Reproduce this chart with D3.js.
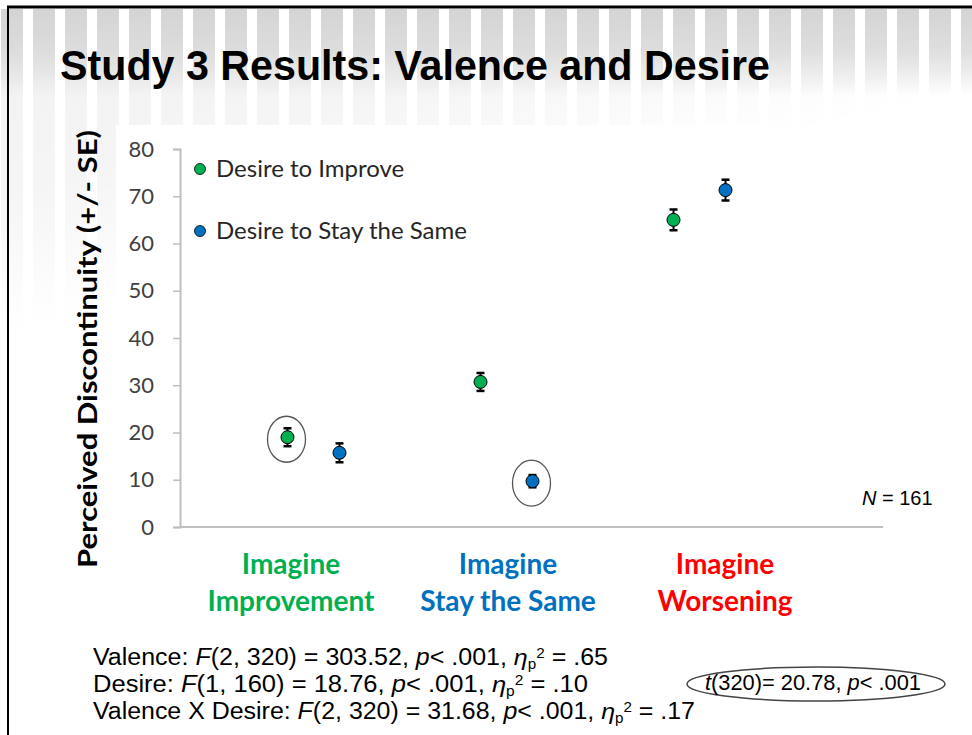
<!DOCTYPE html>
<html lang="en">
<head>
  <meta charset="UTF-8">
  <title>Study 3 Results: Valence and Desire</title>
  <script src="https://d3js.org/d3.v7.min.js"></script>
</head>
<style>
  body{
    margin:0;
    background:white;
  }
</style>
<body>
  <div id="slide"></div>
<script>
// ---- data ----
var conditions = ["Improvement", "Stay the Same", "Worsening"];
var conditionLines = [["Imagine", "Improvement"], ["Imagine", "Stay the Same"], ["Imagine", "Worsening"]];
var conditionColours = ["#00b050", "#0070c0", "#ff0000"];
var seriesNames = ["Desire to Improve", "Desire to Stay the Same"];
var seriesColours = ["#00b050", "#0070c0"];
var improveMeans = [19.0, 30.7, 65.0];
var improveSE = [1.9, 1.9, 2.2];
var stayMeans = [15.7, 9.7, 71.3];
var staySE = [2.0, 1.3, 2.2];
var yTicks = [0, 10, 20, 30, 40, 50, 60, 70, 80];
// which points get a circle round them: [series, condition]
var circled = [[0, 0], [1, 1]];

var width = 972, height = 735;
var sansFont = "Lato, 'Open Sans', sans-serif";
var arialFont = "'Liberation Sans', Arial, sans-serif";
var narrowFont = "'Liberation Sans Narrow', 'Liberation Sans', Arial, sans-serif";

var svg = d3.select("#slide").append("svg")
  .attr("width", width)
  .attr("height", height);

var defs = svg.append("defs");

// vertical fade for the striped header
var fadeTop = defs.append("linearGradient")
  .attr("id", "fadeTop")
  .attr("gradientUnits", "userSpaceOnUse")
  .attr("x1", 0).attr("y1", 9).attr("x2", 0).attr("y2", 96);
fadeTop.append("stop").attr("offset", 0).attr("stop-color", "white").attr("stop-opacity", 1);
fadeTop.append("stop").attr("offset", 0.5).attr("stop-color", "white").attr("stop-opacity", 0.7);
fadeTop.append("stop").attr("offset", 1).attr("stop-color", "white").attr("stop-opacity", 0);
defs.append("mask").attr("id", "maskTop")
  .append("rect").attr("x", 0).attr("y", 0).attr("width", width).attr("height", 360)
  .attr("fill", "url(#fadeTop)");

// diagonal fade, stripes run further down on the left
var fadeDiag = defs.append("linearGradient")
  .attr("id", "fadeDiag")
  .attr("gradientUnits", "userSpaceOnUse")
  .attr("x1", 0).attr("y1", 0).attr("x2", 81).attr("y2", 317);
fadeDiag.append("stop").attr("offset", 0).attr("stop-color", "white").attr("stop-opacity", 0.35);
fadeDiag.append("stop").attr("offset", 0.6).attr("stop-color", "white").attr("stop-opacity", 0.22);
fadeDiag.append("stop").attr("offset", 1).attr("stop-color", "white").attr("stop-opacity", 0);
defs.append("mask").attr("id", "maskDiag")
  .append("rect").attr("x", 0).attr("y", 0).attr("width", width).attr("height", 360)
  .attr("fill", "url(#fadeDiag)");

// stripes
var stripeX = d3.range(1, width, 32);
["maskTop", "maskDiag"].forEach(function(m){
  svg.append("g")
    .attr("mask", "url(#" + m + ")")
    .selectAll("rect")
    .data(stripeX)
    .enter().append("rect")
      .attr("x", function(d){ return d; })
      .attr("y", 9)
      .attr("width", 22)
      .attr("height", 340)
      .attr("fill", "#d4d4d4");
});

// white chart area
svg.append("rect")
  .attr("x", 116).attr("y", 125)
  .attr("width", width - 116).attr("height", height - 125)
  .attr("fill", "white");

// slide frame (top and left edges only are in view)
svg.append("line").attr("x1", 7).attr("x2", width).attr("y1", 7).attr("y2", 7)
  .attr("stroke", "black").attr("stroke-width", 3);
svg.append("line").attr("x1", 8).attr("x2", 8).attr("y1", 6).attr("y2", height)
  .attr("stroke", "black").attr("stroke-width", 2);

// title
svg.append("text")
  .attr("x", 60).attr("y", 80)
  .attr("font-family", narrowFont)
  .attr("font-size", 42)
  .attr("font-weight", "bold")
  .attr("textLength", 710)
  .attr("lengthAdjust", "spacingAndGlyphs")
  .attr("fill", "black")
  .text("Study 3 Results: Valence and Desire");

// ---- scales ----
var yScale = d3.scaleLinear().domain([0, 80]).range([527, 149]);
var xScale = d3.scaleBand().domain(conditions).range([217, 796]);
var xSeries = d3.scalePoint().domain(seriesNames).range([-26, 26]);
var xLabel = d3.scalePoint().domain(conditions).range([291, 725]);

function cx(seriesIdx, condIdx){
  return xScale(conditions[condIdx]) + xScale.bandwidth() / 2 + xSeries(seriesNames[seriesIdx]);
}

// y axis
var yAxis = d3.axisLeft(yScale).tickValues(yTicks).tickSize(7).tickPadding(19);
var gy = svg.append("g")
  .attr("transform", "translate(180,0)")
  .call(yAxis);
gy.select(".domain").attr("stroke", "#bfbfbf").attr("stroke-width", 2);
gy.selectAll(".tick line").attr("stroke", "#bfbfbf").attr("stroke-width", 1.5);
gy.selectAll(".tick text")
  .attr("font-family", sansFont)
  .attr("font-size", 22)
  .attr("fill", "#404040");

// x axis line
svg.append("line")
  .attr("x1", 180).attr("x2", 883)
  .attr("y1", yScale(0)).attr("y2", yScale(0))
  .attr("stroke", "#bfbfbf").attr("stroke-width", 2);

// y title
svg.append("text")
  .attr("transform", "translate(97,349) rotate(-90)")
  .attr("text-anchor", "middle")
  .attr("font-family", sansFont)
  .attr("font-weight", "bold")
  .attr("font-size", 26)
  .attr("textLength", 438)
  .attr("lengthAdjust", "spacingAndGlyphs")
  .attr("fill", "black")
  .text("Perceived Discontinuity (+/- SE)");

// condition labels
conditionLines.forEach(function(lines, i){
  var t = svg.append("text")
    .attr("text-anchor", "middle")
    .attr("font-family", sansFont)
    .attr("font-weight", "bold")
    .attr("font-size", 28)
    .attr("fill", conditionColours[i]);
  lines.forEach(function(l, j){
    t.append("tspan")
      .attr("x", xLabel(conditions[i]))
      .attr("y", 574 + j * 37)
      .text(l);
  });
});

// points
var allSeries = [
  {means: improveMeans, se: improveSE},
  {means: stayMeans, se: staySE}
];

allSeries.forEach(function(s, si){
  var pts = s.means.map(function(m, ci){
    return {x: cx(si, ci), m: m, se: s.se[ci]};
  });
  var g = svg.append("g");
  // error bars
  g.selectAll("line.bar").data(pts).enter().append("line")
    .attr("x1", function(d){ return d.x; })
    .attr("x2", function(d){ return d.x; })
    .attr("y1", function(d){ return yScale(d.m - d.se); })
    .attr("y2", function(d){ return yScale(d.m + d.se); })
    .attr("stroke", "black").attr("stroke-width", 2);
  [1, -1].forEach(function(sign){
    g.selectAll(null).data(pts).enter().append("line")
      .attr("x1", function(d){ return d.x - 4; })
      .attr("x2", function(d){ return d.x + 4; })
      .attr("y1", function(d){ return yScale(d.m + sign * d.se); })
      .attr("y2", function(d){ return yScale(d.m + sign * d.se); })
      .attr("stroke", "black").attr("stroke-width", 2.5);
  });
  // markers
  g.selectAll("circle").data(pts).enter().append("circle")
    .attr("cx", function(d){ return d.x; })
    .attr("cy", function(d){ return yScale(d.m); })
    .attr("r", 6.5)
    .attr("fill", seriesColours[si])
    .attr("stroke", "black").attr("stroke-width", 1);
});

// circles round the highlighted points
svg.selectAll("ellipse.hl").data(circled).enter().append("ellipse")
  .attr("cx", function(d){ return cx(d[0], d[1]) - 1; })
  .attr("cy", function(d){ return yScale(allSeries[d[0]].means[d[1]]) + 2; })
  .attr("rx", 19)
  .attr("ry", 23)
  .attr("fill", "none")
  .attr("stroke", "#555").attr("stroke-width", 1.3);

// legend
seriesNames.forEach(function(n, i){
  svg.append("circle")
    .attr("cx", 200).attr("cy", 169 + i * 62)
    .attr("r", 5.5)
    .attr("fill", seriesColours[i])
    .attr("stroke", "black").attr("stroke-width", 0.8);
  svg.append("text")
    .attr("x", 216).attr("y", 177 + i * 62)
    .attr("font-family", sansFont)
    .attr("font-size", 24)
    .attr("fill", "#262626")
    .text(n);
});

// N
var nText = svg.append("text")
  .attr("x", 862).attr("y", 505)
  .attr("font-family", arialFont)
  .attr("font-size", 20)
  .attr("fill", "black");
nText.append("tspan").attr("font-style", "italic").text("N");
nText.append("tspan").text(" = 161");

// stats lines
function statLine(x, y, len, size, parts){
  var t = svg.append("text")
    .attr("x", x).attr("y", y)
    .attr("font-family", narrowFont)
    .attr("font-size", size)
    .attr("textLength", len)
    .attr("lengthAdjust", "spacingAndGlyphs")
    .attr("fill", "black");
  parts.forEach(function(p){
    var ts = t.append("tspan").text(p.t);
    if (p.i) ts.attr("font-style", "italic");
    if (p.sub) ts.attr("font-size", 14).attr("dy", 4);
    if (p.sup) ts.attr("font-size", 14).attr("dy", -11);
    if (p.back) ts.attr("dy", 7);
  });
  return t;
}
function eta(v){
  return [{t: "η", i: true}, {t: "p", sub: true}, {t: "2", sup: true}, {t: " = " + v, back: true}];
}

statLine(93, 665, 515, 23, [{t: "Valence: "}, {t: "F", i: true}, {t: "(2, 320) = 303.52, "}, {t: "p", i: true}, {t: "< .001, "}].concat(eta(".65")));
statLine(93, 692, 495, 23, [{t: "Desire:  "}, {t: "F", i: true}, {t: "(1, 160) = 18.76, "}, {t: "p", i: true}, {t: "< .001, "}].concat(eta(".10")));
statLine(93, 719, 602, 23, [{t: "Valence X Desire: "}, {t: "F", i: true}, {t: "(2, 320) = 31.68, "}, {t: "p", i: true}, {t: "< .001, "}].concat(eta(".17")));

// t-test note
svg.append("ellipse")
  .attr("cx", 816).attr("cy", 684)
  .attr("rx", 129).attr("ry", 17)
  .attr("fill", "none")
  .attr("stroke", "#444").attr("stroke-width", 1.5);
statLine(705, 690, 216, 22, [{t: "t", i: true}, {t: "(320)= 20.78, "}, {t: "p", i: true}, {t: "< .001"}]);
</script>
</body>
</html>
